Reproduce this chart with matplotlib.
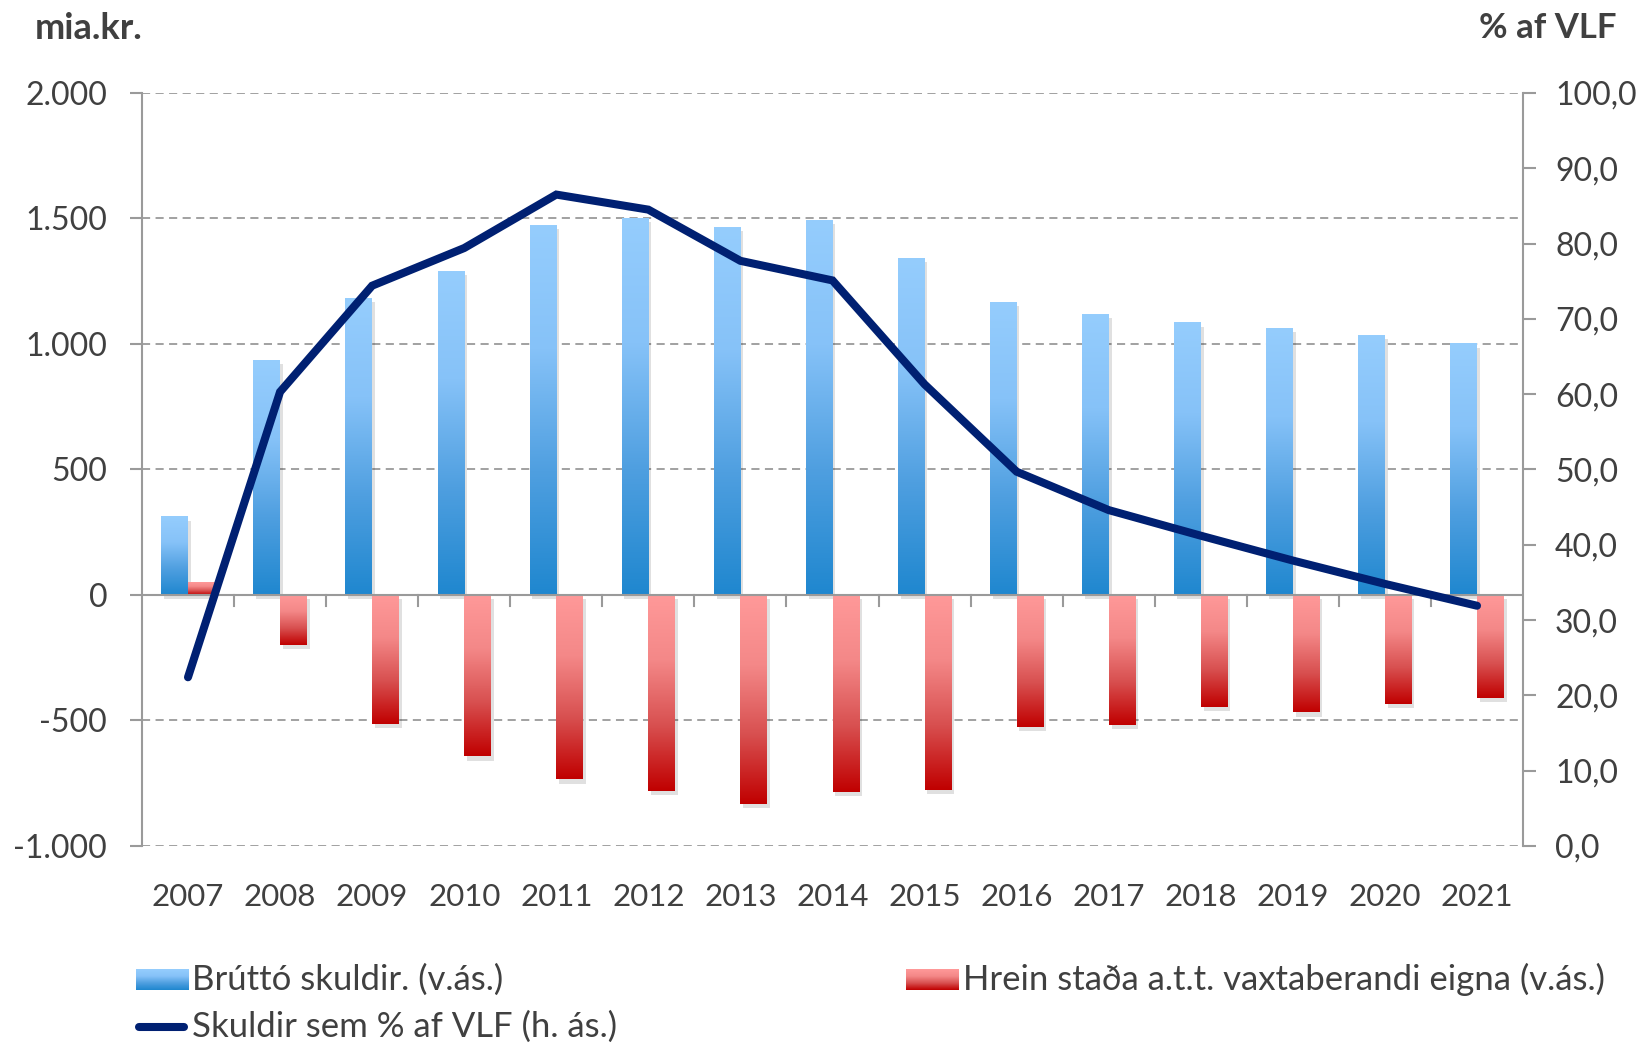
import numpy as np
import matplotlib.pyplot as plt
from matplotlib.colors import LinearSegmentedColormap
from matplotlib import patheffects as pe

plt.rcParams['font.family'] = ['Lato', 'DejaVu Sans']

years = ['2007', '2008', '2009', '2010', '2011', '2012', '2013', '2014',
         '2015', '2016', '2017', '2018', '2019', '2020', '2021']
gross_debt = [313, 935, 1182, 1290, 1474, 1503, 1466, 1495,
              1344, 1169, 1119, 1086, 1065, 1035, 1002]
net_position = [50, -200, -514, -643, -735, -781, -831, -785,
                -777, -526, -518, -447, -468, -434, -409]
debt_pct_gdp = [22.4, 60.3, 74.4, 79.4, 86.5, 84.5, 77.7, 75.1,
                61.3, 49.7, 44.6, 41.2, 37.9, 34.8, 31.9]

label_gross = 'Brúttó skuldir. (v.ás.)'
label_net = 'Hrein staða a.t.t. vaxtaberandi eigna (v.ás.)'
label_pct = 'Skuldir sem % af VLF (h. ás.)'

txt = '#404040'
grid_c = '#9a9a9a'
blue_cm = LinearSegmentedColormap.from_list('b', ['#1f87cf', '#4f9fe0', '#86c2f8', '#95cdfd'])
red_cm = LinearSegmentedColormap.from_list('r', ['#c00000', '#d85050', '#f48888', '#ff9999'])

fig = plt.figure(figsize=(16.43, 10.44), dpi=100)
ax = fig.add_axes([0.0864, 0.1897, 0.8406, 0.7213])
ax2 = ax.twinx()

x = np.arange(len(years))
w = 0.29
ax.set_xlim(-0.5, len(years) - 0.5)
ax.set_ylim(-1000, 2000)
ax2.set_ylim(0, 100)

shadow = [pe.SimplePatchShadow(offset=(2, -3), shadow_rgbFace='#000000', alpha=0.12)]


def gradient_bars(xs, vals, cmap):
    bars = ax.bar(xs, vals, w, facecolor=(1, 1, 1, 0), edgecolor='none', zorder=2)
    grad = np.linspace(0, 1, 256).reshape(-1, 1)
    for b, v in zip(bars, vals):
        b.set_path_effects(shadow)
        x0 = b.get_x()
        x1 = x0 + b.get_width()
        lo, hi = min(0, v), max(0, v)
        im = ax.imshow(grad, cmap=cmap, aspect='auto', origin='lower',
                       extent=(x0, x1, lo, hi), zorder=3, interpolation='bilinear')
        im.set_clip_path(b)
    return bars


gradient_bars(x - w / 2, gross_debt, blue_cm)
gradient_bars(x + w / 2, net_position, red_cm)
ax.set_xlim(-0.5, len(years) - 0.5)
ax.set_ylim(-1000, 2000)

ax2.plot(x, debt_pct_gdp, color='#002072', lw=5.8, solid_capstyle='round',
         solid_joinstyle='miter', zorder=5)

# grid & axes
for yv in [2000, 1500, 1000, 500, -500, -1000]:
    ax.axhline(yv, color=grid_c, lw=1.3, ls=(0, (4.5, 3)), zorder=1)
ax.axhline(0, color=grid_c, lw=1.5, zorder=4)
for s in ['top', 'bottom']:
    ax.spines[s].set_visible(False)
    ax2.spines[s].set_visible(False)
ax2.spines['left'].set_visible(False)
ax.spines['right'].set_visible(False)
ax.spines['left'].set_color(grid_c)
ax.spines['left'].set_linewidth(1.5)
ax2.spines['right'].set_color(grid_c)
ax2.spines['right'].set_linewidth(1.5)

ax.set_yticks([-1000, -500, 0, 500, 1000, 1500, 2000])
ax.set_yticklabels(['-1.000', '-500', '0', '500', '1.000', '1.500', '2.000'])
ax2.set_yticks(np.arange(0, 101, 10))
ax2.set_yticklabels([f'{v},0' for v in range(0, 101, 10)])
ax.tick_params(axis='y', length=9, width=1.5, color=grid_c, labelsize=23,
               labelcolor=txt, pad=16)
ax2.tick_params(axis='y', length=9, width=1.5, color=grid_c, labelsize=23,
                labelcolor=txt, pad=14)

ax.set_xticks([])
for i in range(1, len(years)):
    ax.plot([i - 0.5, i - 0.5], [0, -45], color=grid_c, lw=1.5, zorder=4,
            clip_on=False)
for i, yr in enumerate(years):
    ax.text(i, -1205, yr, ha='center', va='center', fontsize=22.5, color=txt)

fig.text(0.021, 0.973, 'mia.kr.', fontsize=26, fontweight='bold', color=txt,
         ha='left', va='center')
fig.text(0.984, 0.973, '% af VLF', fontsize=25, fontweight='bold', color=txt,
         ha='right', va='center')


# legend (drawn manually so the gradient swatches match the bars)
def swatch(x0, y0, cmap):
    sa = fig.add_axes([x0, y0, 0.0322, 0.0201])
    sa.imshow(np.linspace(0, 1, 64).reshape(-1, 1), cmap=cmap, aspect='auto',
              origin='lower')
    sa.axis('off')


swatch(0.0828, 0.0517, blue_cm)
fig.text(0.1170, 0.0617, label_gross, fontsize=25, color=txt, va='center')
swatch(0.5514, 0.0517, red_cm)
fig.text(0.5862, 0.0617, label_net, fontsize=25, color=txt, va='center')
fig.add_artist(plt.Line2D([0.0845, 0.1120], [0.0165, 0.0165], color='#002072',
                          lw=5.8, solid_capstyle='round'))
fig.text(0.1170, 0.0165, label_pct, fontsize=25, color=txt, va='center')

fig.savefig('out.png', dpi=100)
